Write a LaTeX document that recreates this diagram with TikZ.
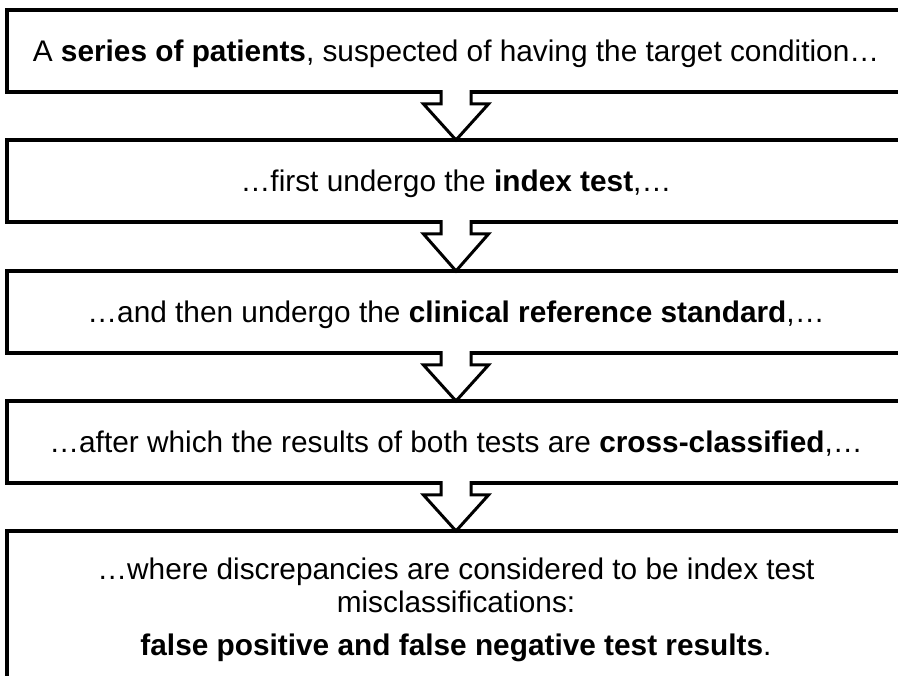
\documentclass[tikz,border=0pt]{standalone}
\usepackage{fontspec}
\setmainfont{Liberation Sans}
\usetikzlibrary{calc}
\tikzset{
  stage/.style={draw=black, line width=3.5pt, minimum width=898pt,
    minimum height=82pt, inner sep=0pt, outer sep=0pt,
    font=\fontsize{29.8}{32}\selectfont, text height=21.3pt, text depth=0pt},
  laststage/.style={draw=black, line width=3.5pt, minimum width=898pt,
    inner xsep=0pt, inner ysep=27pt, outer sep=0pt, align=center,
    font=\fontsize{29.8}{33}\selectfont},
  flowarrow/.style={draw=black, line width=3pt, line join=miter},
}
\begin{document}
\begin{tikzpicture}[x=1pt, y=-1pt]
  \clip (0,0) rectangle (898,676);
  \fill[white] (0,0) rectangle (898,676);

  % the five stages of the study design
  \node[stage] (b1) at (456,51)
    {A \textbf{series of patients}, suspected of having the target condition…};
  \node[stage] (b2) at (456,181)
    {…first undergo the \textbf{index test},…};
  \node[stage] (b3) at (456,312)
    {…and then undergo the \textbf{clinical reference standard},…};
  \node[stage] (b4) at (456,442)
    {…after which the results of both tests are \textbf{cross-classified},…};
  \node[laststage, anchor=north] (b5) at (456,531)
    {…where discrepancies are considered to be index test\\
     misclassifications:\\[10pt]
     \textbf{false positive and false negative test results}.};

  % block arrows from one stage to the next
  \foreach \a/\b in {b1/b2, b2/b3, b3/b4, b4/b5}{
    \fill[white] ($(\a.south)+(-15,-2)$) -- ($(\a.south)+(-15,12)$)
      -- ($(\a.south)+(-32.5,12)$) -- (\b.north)
      -- ($(\a.south)+(32.5,12)$) -- ($(\a.south)+(15,12)$)
      -- ($(\a.south)+(15,-2)$) -- cycle;
    \draw[flowarrow] ($(\a.south)+(-15,-1.75)$) -- ($(\a.south)+(-15,12)$)
      -- ($(\a.south)+(-32.5,12)$) -- (\b.north)
      -- ($(\a.south)+(32.5,12)$) -- ($(\a.south)+(15,12)$)
      -- ($(\a.south)+(15,-1.75)$);
  }
\end{tikzpicture}
\end{document}
